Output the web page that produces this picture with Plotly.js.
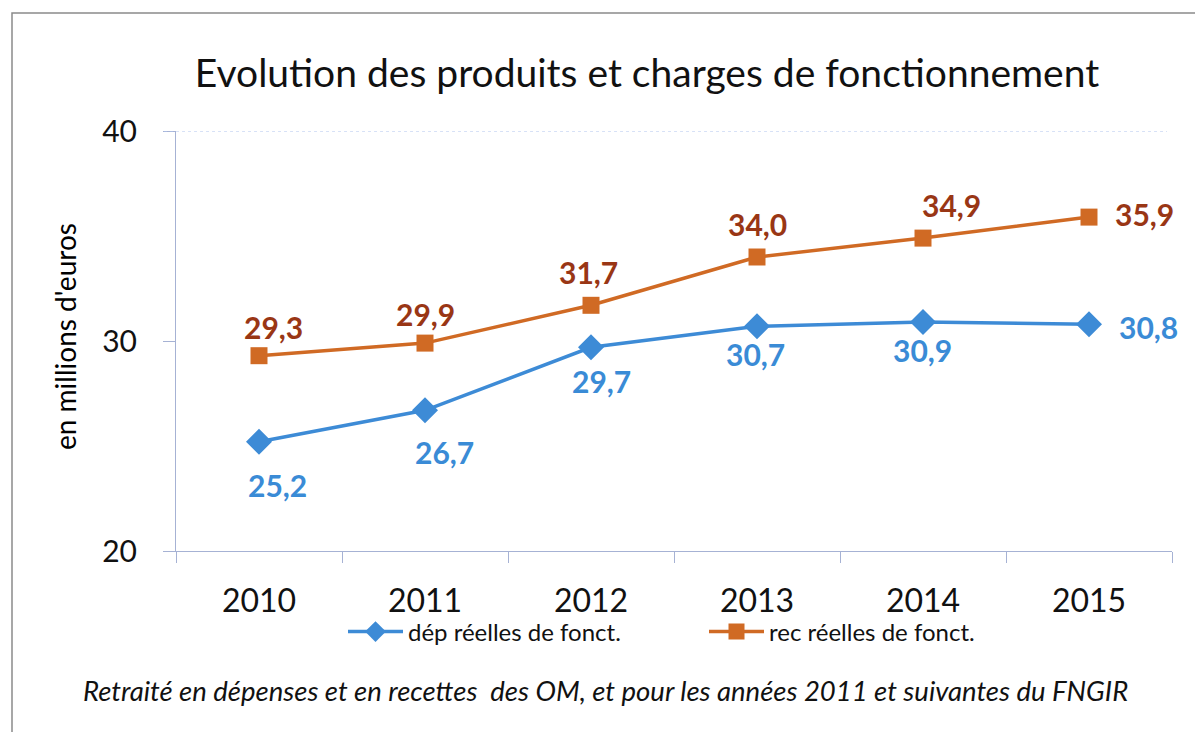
<!DOCTYPE html>
<html>
<head>
<meta charset="utf-8">
<script src="https://cdn.plot.ly/plotly-3.0.1.min.js"></script>
<style>
  html, body { margin: 0; padding: 0; background: #ffffff; }
  #chart { width: 1195px; height: 732px; }
</style>
</head>
<body>
<div id="chart"></div>
<script>
// ---- data ----
const years = ['2010', '2011', '2012', '2013', '2014', '2015'];
const depReelles = [25.2, 26.7, 29.7, 30.7, 30.9, 30.8];
const recReelles = [29.3, 29.9, 31.7, 34.0, 34.9, 35.9];
const seriesNames = ['dép réelles de fonct.', 'rec réelles de fonct.'];
const yTicks = [20, 30, 40];
const chartTitle = 'Evolution des produits et charges de fonctionnement';
const yTitle = "en millions d'euros";
const footnote = 'Retraité en dépenses et en recettes  des OM, et pour les années 2011 et suivantes du FNGIR';

// ---- label offsets (pixels, style only) ----
const depOffX = [18, 19, 10, -2, -1, 59];
const depOffY = [-43, -42, -34, -28, -28, -3];
const recOffX = [14, 0, -3, 0, 28, 55];
const recOffY = [29, 29, 33, 33, 33, 3];

const blue = '#3D8BD6';
const orange = '#D06A24';
const blueLbl = '#3A8BD6';
const orangeLbl = '#993615';
const FONT = 'Lato, "Open Sans", sans-serif';

const fmt = v => v.toFixed(1).replace('.', ',');

const traces = [
  {
    x: years, y: depReelles, name: seriesNames[0],
    type: 'scatter', mode: 'lines+markers',
    line: { color: blue, width: 3.5 },
    marker: { symbol: 'diamond', size: 20, color: blue },
    hoverinfo: 'skip'
  },
  {
    x: years, y: recReelles, name: seriesNames[1],
    type: 'scatter', mode: 'lines+markers',
    line: { color: orange, width: 3.5 },
    marker: { symbol: 'square', size: 17, color: orange },
    hoverinfo: 'skip'
  }
];

const annotations = [];
years.forEach((yr, i) => {
  annotations.push({
    x: i, y: depReelles[i], xref: 'x', yref: 'y',
    text: fmt(depReelles[i]), showarrow: false,
    xshift: depOffX[i], yshift: depOffY[i],
    font: { family: FONT, size: 30, color: blueLbl, weight: 'bold' }
  });
  annotations.push({
    x: i, y: recReelles[i], xref: 'x', yref: 'y',
    text: fmt(recReelles[i]), showarrow: false,
    xshift: recOffX[i], yshift: recOffY[i],
    font: { family: FONT, size: 30, color: orangeLbl, weight: 'bold' }
  });
});
annotations.push({
  x: (65 - 176) / 996, y: 0.5, xref: 'paper', yref: 'paper',
  text: yTitle, textangle: -90, showarrow: false,
  xanchor: 'center', yanchor: 'middle',
  yshift: 4,
  font: { family: FONT, size: 28, color: '#000000' }
});
annotations.push({
  x: (605 - 176) / 996, y: (551 - 690) / 420, xref: 'paper', yref: 'paper',
  text: '<i>' + footnote + '</i>', showarrow: false,
  xanchor: 'center', yanchor: 'middle',
  font: { family: FONT, size: 27.5, color: '#111111' }
});

const layout = {
  width: 1195, height: 732,
  margin: { l: 176, r: 23, t: 131, b: 181 },
  paper_bgcolor: '#ffffff', plot_bgcolor: '#ffffff',
  showlegend: true,
  title: {
    text: chartTitle, xref: 'container', yref: 'container',
    x: 647 / 1195, y: 1 - 73 / 732, xanchor: 'center', yanchor: 'middle',
    font: { family: FONT, size: 39, color: '#111111' }
  },
  xaxis: {
    type: 'category', range: [-0.5, 5.5],
    showgrid: false, zeroline: false,
    showline: true, linecolor: '#A6B2D4', linewidth: 1,
    ticks: 'outside', tickson: 'boundaries', ticklen: 11, tickcolor: '#A6B2D4',
    ticklabelstandoff: 22,
    tickfont: { family: FONT, size: 32, color: '#111111' },
    fixedrange: true
  },
  yaxis: {
    range: [20, 40], tickvals: yTicks, ticktext: yTicks.map(String),
    showgrid: false, zeroline: false,
    showline: true, linecolor: '#A6B2D4', linewidth: 1,
    ticks: 'outside', ticklen: 12, tickcolor: '#A6B2D4',
    ticklabelstandoff: 20,
    tickfont: { family: FONT, size: 30, color: '#111111' },
    fixedrange: true
  },
  legend: {
    orientation: 'h', x: (343 - 176) / 996, xanchor: 'left',
    y: (551 - 632) / 420, yanchor: 'middle',
    font: { family: FONT, size: 24, color: '#111111' },
    itemwidth: 55, entrywidth: 291, entrywidthmode: 'pixels',
    bgcolor: 'rgba(0,0,0,0)', traceorder: 'normal'
  },
  shapes: [
    { type: 'line', xref: 'paper', yref: 'y', x0: -0.012, x1: 0.995, y0: 40, y1: 40,
      line: { color: '#AFC4EE', width: 1.2, dash: 'dot' } },
    { type: 'rect', xref: 'paper', yref: 'paper',
      x0: (12 - 176) / 996, x1: (1240 - 176) / 996,
      y0: (551 - 760) / 420, y1: (551 - 13) / 420,
      line: { color: '#8A8A8A', width: 1.5 }, fillcolor: 'rgba(0,0,0,0)', layer: 'below' }
  ],
  annotations: annotations
};

Plotly.newPlot('chart', traces, layout, { displayModeBar: false, staticPlot: true });
</script>
</body>
</html>
